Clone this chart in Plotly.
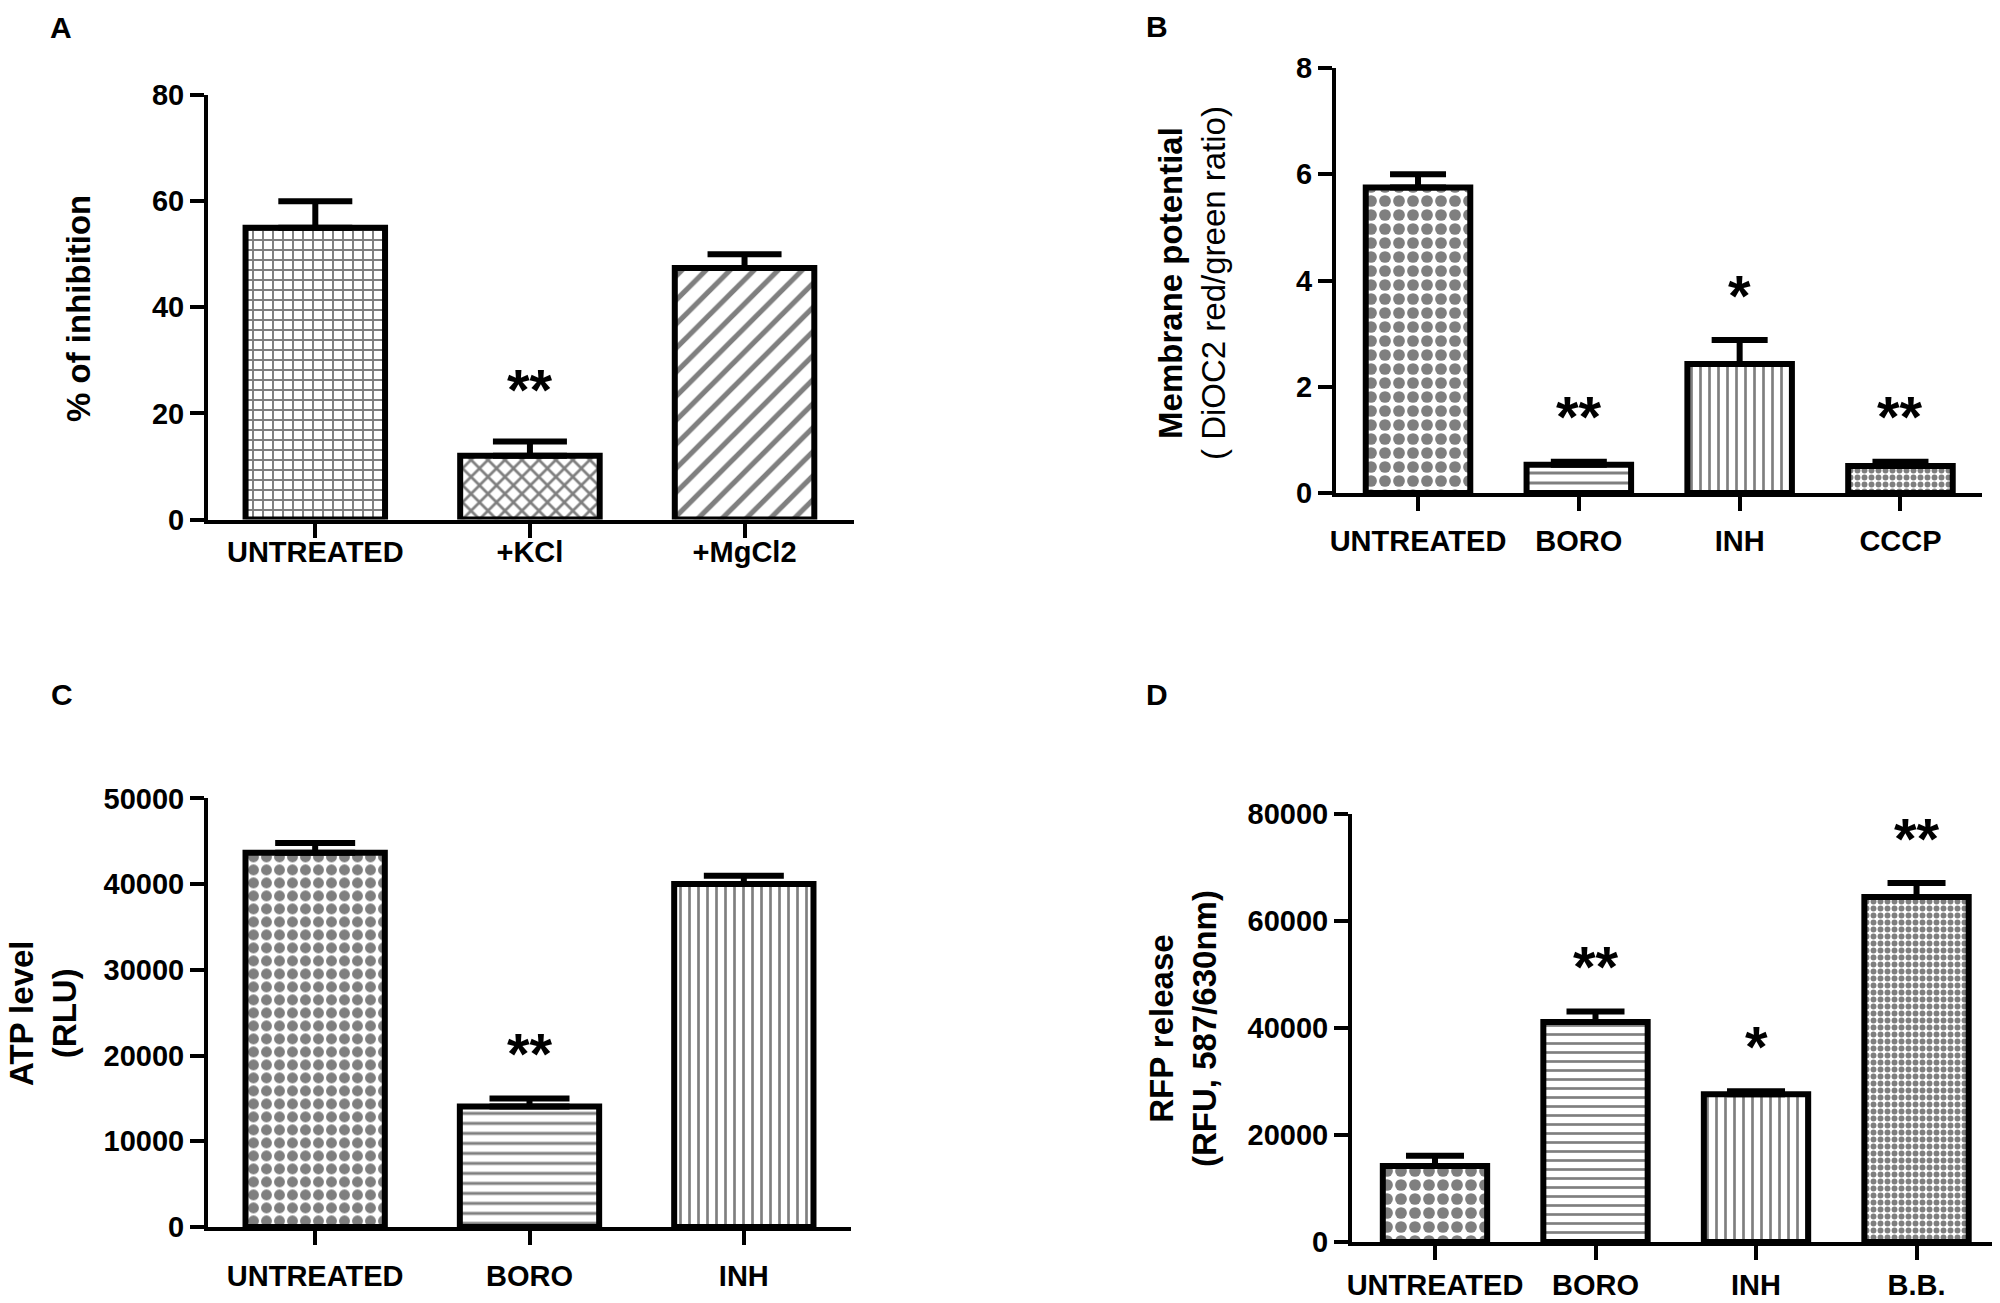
import plotly.graph_objects as go

# the page body has an 8 px margin, so figure pixels = page pixels - 8
OFF = 8
W, H = 2000 - OFF, 1303 - OFF
FONT = "Liberation Sans, Arial, sans-serif"

# ---- data ----
a_cats = ["UNTREATED", "+KCl", "+MgCl2"]
a_mean = [55.0, 12.0, 47.4]
a_sem = [5.0, 2.7, 2.6]
a_sig = ["", "**", ""]

b_cats = ["UNTREATED", "BORO", "INH", "CCCP"]
b_mean = [5.75, 0.53, 2.43, 0.51]
b_sem = [0.25, 0.06, 0.45, 0.08]
b_sig = ["", "**", "*", "**"]

c_cats = ["UNTREATED", "BORO", "INH"]
c_mean = [43650, 14050, 40000]
c_sem = [1150, 950, 970]
c_sig = ["", "**", ""]

d_cats = ["UNTREATED", "BORO", "INH", "B.B."]
d_mean = [14200, 41100, 27600, 64500]
d_sem = [1900, 2000, 600, 2600]
d_sig = ["", "**", "*", "**"]


def px_x(x):
    return (x - OFF) / W


def px_y(y):
    return 1 - (y - OFF) / H


panels = [
    dict(cats=a_cats, mean=a_mean, sem=a_sem, sig=a_sig,
         shape=["+", "x", "/"], size=[10, 12, 17], sol=[0.35, 0.4, 0.3],
         capw=37, xd=(208, 854), yd=(519.5, 95), xr=(-0.5, 2.51), yr=(0, 80),
         dtick=20, stand=-10, star=52),
    dict(cats=b_cats, mean=b_mean, sem=b_sem, sig=b_sig,
         shape=[".", "-", "|", "."], size=[14, 10, 9, 7], sol=[0.55, 0.3, 0.3, 0.55],
         capw=28, xd=(1336, 1982), yd=(493, 68), xr=(-0.51, 3.507), yr=(0, 8),
         dtick=2, stand=5, star=45),
    dict(cats=c_cats, mean=c_mean, sem=c_sem, sig=c_sig,
         shape=[".", "-", "|"], size=[13, 10, 9], sol=[0.55, 0.3, 0.3],
         capw=40, xd=(208, 851), yd=(1227, 798.4), xr=(-0.5, 2.5), yr=(0, 50000),
         dtick=10000, stand=6, star=45),
    dict(cats=d_cats, mean=d_mean, sem=d_sem, sig=d_sig,
         shape=[".", "-", "|", "."], size=[14, 9, 9, 7], sol=[0.55, 0.3, 0.3, 0.55],
         capw=29, xd=(1352, 2000), yd=(1242, 814), xr=(-0.517, 3.52), yr=(0, 80000),
         dtick=20000, stand=0, star=45),
]

fig = go.Figure()
annotations = []
layout = {}

for i, p in enumerate(panels):
    n = "" if i == 0 else str(i + 1)
    fig.add_trace(go.Bar(
        x=p["cats"], y=p["mean"], width=0.65,
        xaxis="x" + n, yaxis="y" + n,
        marker=dict(color="white",
                    line=dict(color="black", width=6),
                    pattern=dict(shape=p["shape"], size=p["size"], solidity=p["sol"],
                                 fgcolor="black", bgcolor="white")),
        error_y=dict(type="data", symmetric=False, array=p["sem"],
                     arrayminus=[0] * len(p["sem"]),
                     color="black", thickness=6, width=p["capw"]),
        showlegend=False,
    ))
    tick_font = dict(family=FONT, size=29, color="black", weight="bold")
    layout["xaxis" + n] = dict(
        domain=[px_x(p["xd"][0]), min(px_x(p["xd"][1]), 1)], anchor="y" + n,
        range=list(p["xr"]), type="category", automargin=False,
        showline=True, linewidth=4, linecolor="black",
        ticks="outside", ticklen=14, tickwidth=4, tickcolor="black",
        tickfont=tick_font, ticklabelstandoff=p["stand"], showgrid=False,
    )
    layout["yaxis" + n] = dict(
        domain=[px_y(p["yd"][0]), px_y(p["yd"][1])], anchor="x" + n,
        range=list(p["yr"]), dtick=p["dtick"], tickformat="d", automargin=False,
        showline=True, linewidth=4, linecolor="black",
        ticks="outside", ticklen=14, tickwidth=4, tickcolor="black",
        tickfont=tick_font, showgrid=False, zeroline=False,
    )
    for c, m, s, g in zip(p["cats"], p["mean"], p["sem"], p["sig"]):
        if g:
            annotations.append(dict(
                x=c, y=m + s, xref="x" + n, yref="y" + n, text=g, showarrow=False,
                yanchor="middle", yshift=p["star"],
                font=dict(family=FONT, size=58, color="black", weight="bold")))

# panel letters
for letter, (lx, ly) in zip("ABCD", [(61, 28), (1157, 27), (62, 694), (1157, 694)]):
    annotations.append(dict(x=px_x(lx), y=px_y(ly), xref="paper", yref="paper",
                            text="<b>%s</b>" % letter, showarrow=False,
                            xanchor="center", yanchor="middle",
                            font=dict(family=FONT, size=30, color="black")))

# y-axis titles
titles = [
    ("<b>% of inhibition</b>", 78, 309),
    ("<b>Membrane potential</b><br>( DiOC2 red/green ratio)", 1192, 283),
    ("<b>ATP level</b><br><b>(RLU)</b>", 43, 1013),
    ("<b>RFP release</b><br><b>(RFU, 587/630nm)</b>", 1183, 1029),
]
for txt, tx, ty in titles:
    annotations.append(dict(x=px_x(tx), y=px_y(ty), xref="paper", yref="paper",
                            text=txt, showarrow=False, textangle=-90,
                            xanchor="center", yanchor="middle",
                            font=dict(family=FONT, size=33, color="black")))

fig.update_layout(
    width=W, height=H, margin=dict(l=0, r=0, t=0, b=0, autoexpand=False),
    paper_bgcolor="white", plot_bgcolor="white",
    bargap=0.3, annotations=annotations, **layout,
)

fig.write_html("out.html")
